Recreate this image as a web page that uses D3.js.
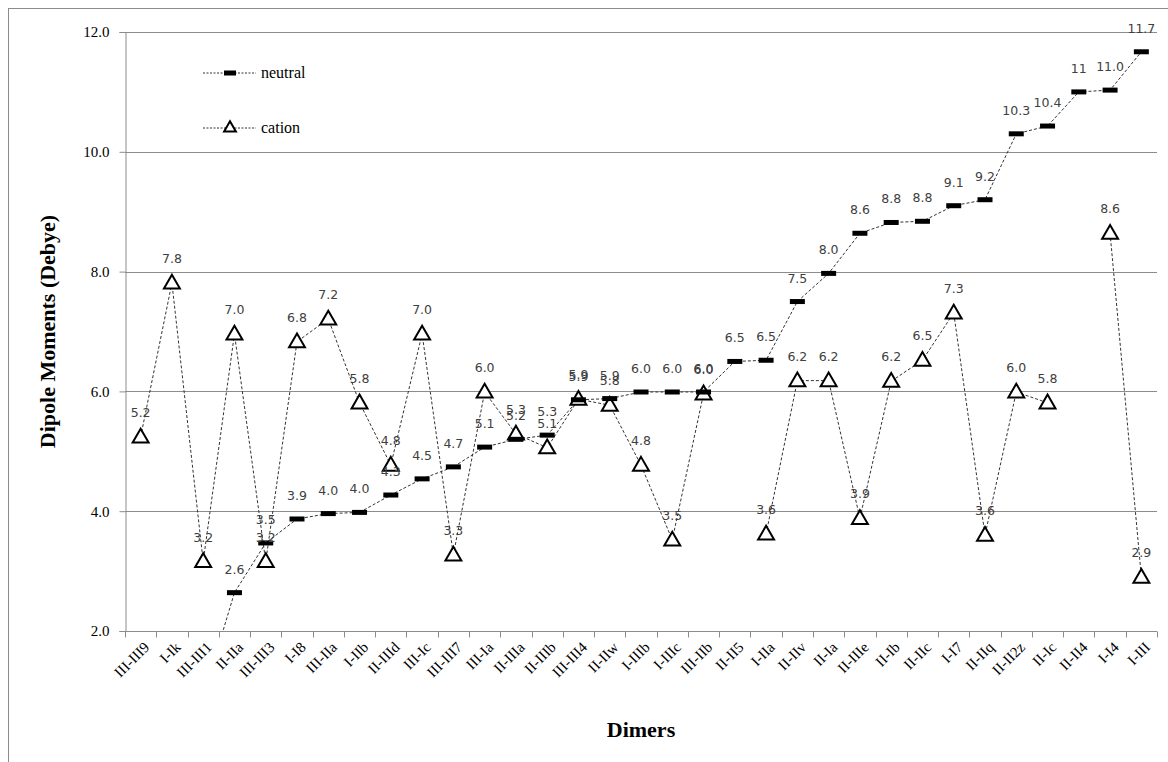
<!DOCTYPE html>
<html>
<head>
<meta charset="utf-8">
<script src="https://cdn.jsdelivr.net/npm/d3@7"></script>
<style>
  body { margin: 0; background: #fff; }
  svg { display: block; }
  .grid line { stroke: #8c8c8c; stroke-width: 1; }
  .axis path, .axis line { stroke: #8c8c8c; }
  .tick text { font-family: "Liberation Serif", serif; fill: #000; }
  .lbl { font-family: "DejaVu Sans", sans-serif; font-size: 12.5px; fill: #404040; }
</style>
</head>
<body>
<svg width="1168" height="762"></svg>
<script>
// dimers along the x axis
const dimers = ["III-III9", "I-Ik", "III-III1", "II-IIa", "III-III3", "I-I8", "III-IIa", "I-IIb",
  "II-IIId", "III-Ic", "III-III7", "III-Ia", "II-IIIa", "II-IIIb", "III-III4", "II-IIw", "I-IIIb",
  "I-IIIc", "III-IIb", "II-II5", "I-IIa", "II-IIv", "II-Ia", "II-IIIe", "II-Ib", "II-IIc", "I-I7",
  "II-IIq", "II-II2z", "II-Ic", "II-II4", "I-I4", "I-III"]

// neutral dipole moments (Debye), null = not plotted
const neutral = [null, null, 0.9, 2.64, 3.47, 3.87, 3.96, 3.98,
  4.27, 4.54, 4.74, 5.07, 5.2, 5.27, 5.86, 5.88, 5.99,
  5.99, 5.99, 6.5, 6.52, 7.5, 7.97, 8.64, 8.82, 8.84, 9.1,
  9.2, 10.3, 10.43, 11.0, 11.03, 11.67]

// cation dipole moments (Debye)
const cation = [5.24, 7.81, 3.16, 6.96, 3.16, 6.83, 7.21, 5.81,
  4.77, 6.96, 3.27, 5.99, 5.29, 5.06, 5.87, 5.77, 4.77,
  3.52, 5.96, null, 3.62, 6.18, 6.18, 3.88, 6.17, 6.52, 7.31,
  3.6, 5.99, 5.81, null, 8.64, 2.9]

// label text that the original shows differently
const labelOverrides = { "II-II4": "11" }

const yTicks = [2, 4, 6, 8, 10, 12]

const svg = d3.select("svg")
const margin = { top: 32, right: 11, bottom: 131, left: 125 }
const width = 1168 - margin.left - margin.right
const height = 762 - margin.top - margin.bottom

// outer chart border
svg.append("rect")
  .attr("x", 8.5).attr("y", 8.5)
  .attr("width", 1180).attr("height", 780)
  .attr("fill", "none").attr("stroke", "#8c8c8c")

const g = svg.append("g")
  .attr("transform", `translate(${margin.left},${margin.top})`)

const xScale = d3.scaleBand().domain(dimers).range([0, width])
const yScale = d3.scaleLinear().domain([2, 12]).range([height, 0])
const cx = (d) => xScale(d) + xScale.bandwidth() / 2

g.append("clipPath").attr("id", "plot")
  .append("rect").attr("x", 0).attr("y", -2).attr("width", width).attr("height", height + 2)

// horizontal gridlines
g.append("g").attr("class", "grid")
  .selectAll("line")
  .data(yTicks.slice(1))
  .join("line")
  .attr("x1", 0).attr("x2", width)
  .attr("y1", (d) => Math.round(yScale(d)) + 0.5)
  .attr("y2", (d) => Math.round(yScale(d)) + 0.5)

// y axis
g.append("g")
  .attr("class", "axis")
  .attr("transform", "translate(0.5,0)")
  .call(d3.axisLeft(yScale).tickValues(yTicks).tickFormat(d3.format(".1f")).tickSize(6).tickPadding(10))
  .call((a) => a.selectAll("text").style("font-size", "15px"))

// x axis, ticks at category boundaries
const xAxis = g.append("g")
  .attr("class", "axis")
  .attr("transform", `translate(0,${Math.round(height) + 0.5})`)
xAxis.append("line").attr("x1", 0).attr("x2", width).attr("stroke", "#8c8c8c")
xAxis.selectAll(".bt")
  .data(d3.range(dimers.length + 1))
  .join("line")
  .attr("x1", (i) => Math.round(i * xScale.step()) + 0.5)
  .attr("x2", (i) => Math.round(i * xScale.step()) + 0.5)
  .attr("y1", 0).attr("y2", 6)
  .attr("stroke", "#8c8c8c")
xAxis.selectAll("text")
  .data(dimers)
  .join("text")
  .attr("class", "tick")
  .attr("transform", (d) => `translate(${cx(d) + 6},${13}) rotate(-45)`)
  .attr("text-anchor", "end")
  .attr("dy", "0.35em")
  .style("font-family", "Liberation Serif, serif")
  .style("font-size", "15px")
  .text((d) => d)

// axis titles
svg.append("text")
  .attr("transform", `translate(55,${margin.top + height / 2}) rotate(-90)`)
  .attr("text-anchor", "middle")
  .style("font-family", "Liberation Serif, serif")
  .style("font-weight", "bold")
  .style("font-size", "22px")
  .text("Dipole Moments (Debye)")

svg.append("text")
  .attr("x", margin.left + width / 2).attr("y", 737)
  .attr("text-anchor", "middle")
  .style("font-family", "Liberation Serif, serif")
  .style("font-weight", "bold")
  .style("font-size", "22px")
  .text("Dimers")

const series = [
  { name: "neutral", values: neutral },
  { name: "cation", values: cation },
]

const line = d3.line()
  .defined((d) => d.v != null)
  .x((d) => cx(d.name))
  .y((d) => yScale(d.v))

const plot = g.append("g").attr("clip-path", "url(#plot)")
series.forEach((s) => {
  const pts = dimers.map((name, i) => ({ name, v: s.values[i] }))
  plot.append("path")
    .datum(pts)
    .attr("fill", "none")
    .attr("stroke", "#333")
    .attr("stroke-width", 1)
    .attr("stroke-dasharray", "3,2")
    .attr("d", line)
})

const triangle = d3.symbol().type(d3.symbolTriangle).size(110)

// markers
const neutralPts = dimers.map((name, i) => ({ name, v: neutral[i] })).filter((d) => d.v != null && d.v >= 2)
const cationPts = dimers.map((name, i) => ({ name, v: cation[i] })).filter((d) => d.v != null && d.v >= 2)

plot.selectAll(".tri")
  .data(cationPts)
  .join("path")
  .attr("class", "tri")
  .attr("transform", (d) => `translate(${cx(d.name)},${yScale(d.v) + 1})`)
  .attr("d", triangle)
  .attr("fill", "#fff")
  .attr("stroke", "#000")
  .attr("stroke-width", 2)

plot.selectAll(".dash")
  .data(neutralPts)
  .join("rect")
  .attr("class", "dash")
  .attr("x", (d) => cx(d.name) - 7.5)
  .attr("y", (d) => yScale(d.v) - 2.5)
  .attr("width", 15).attr("height", 5)
  .attr("fill", "#000")

// data labels
const fmt = d3.format(".1f")
g.selectAll(".lbl-n")
  .data(neutralPts)
  .join("text")
  .attr("class", "lbl")
  .attr("x", (d) => cx(d.name))
  .attr("y", (d) => yScale(d.v) - 19)
  .attr("text-anchor", "middle")
  .text((d) => labelOverrides[d.name] || fmt(d.v))

g.selectAll(".lbl-c")
  .data(cationPts)
  .join("text")
  .attr("class", "lbl")
  .attr("x", (d) => cx(d.name))
  .attr("y", (d) => yScale(d.v) - 20)
  .attr("text-anchor", "middle")
  .text((d) => fmt(d.v))

// legend
const legend = svg.append("g")
const legendItems = [
  { name: "neutral", y: 73 },
  { name: "cation", y: 128 },
]
legendItems.forEach((it) => {
  legend.append("line")
    .attr("x1", 203).attr("x2", 256)
    .attr("y1", it.y).attr("y2", it.y)
    .attr("stroke", "#333").attr("stroke-dasharray", "2,1.5")
  if (it.name === "neutral") {
    legend.append("rect").attr("x", 224).attr("y", it.y - 2.5).attr("width", 12).attr("height", 5).attr("fill", "#000")
  } else {
    legend.append("path")
      .attr("transform", `translate(230,${it.y})`)
      .attr("d", d3.symbol().type(d3.symbolTriangle).size(60))
      .attr("fill", "#fff").attr("stroke", "#000").attr("stroke-width", 2)
  }
  legend.append("text")
    .attr("x", 261).attr("y", it.y + 5)
    .style("font-family", "Liberation Serif, serif")
    .style("font-size", "16px")
    .text(it.name)
})
</script>
</body>
</html>
